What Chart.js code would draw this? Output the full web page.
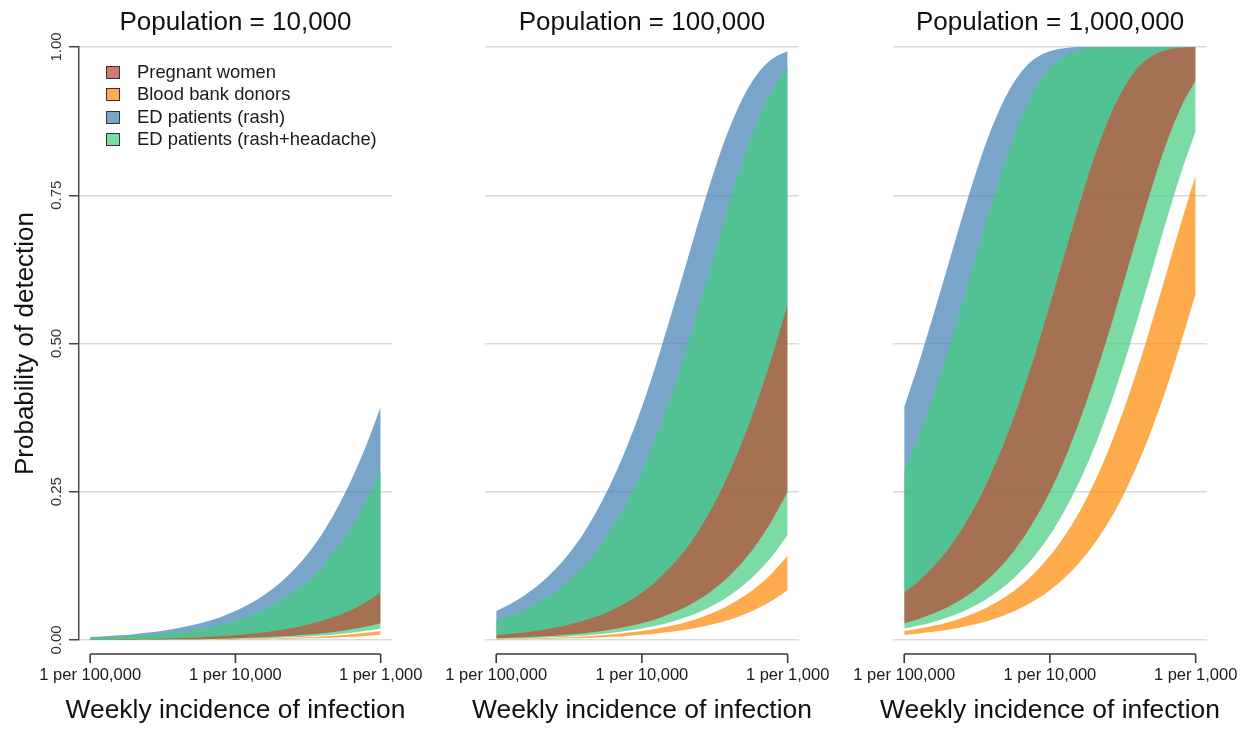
<!DOCTYPE html>
<html>
<head>
<meta charset="utf-8">
<script src="https://cdn.jsdelivr.net/npm/chart.js@4.4.1/dist/chart.umd.min.js"></script>
<style>
  html, body { margin: 0; padding: 0; background: #fff; overflow: hidden; width: 1245px; height: 729px; }
  canvas { position: absolute; top: 0; }
</style>
</head>
<body>
<canvas id="pop10k" width="470" height="729" style="left:0px"></canvas>
<canvas id="pop100k" width="470" height="729" style="left:407px"></canvas>
<canvas id="pop1m" width="470" height="729" style="left:815px"></canvas>
<script>
// Weekly incidence sampled every 0.1 decade, 1 per 100,000 to 1 per 1,000
const incidence = [1.000e-5, 1.259e-5, 1.585e-5, 1.995e-5, 2.512e-5, 3.162e-5, 3.981e-5, 5.012e-5, 6.310e-5, 7.943e-5,
                   1.000e-4, 1.259e-4, 1.585e-4, 1.995e-4, 2.512e-4, 3.162e-4, 3.981e-4, 5.012e-4, 6.310e-4, 7.943e-4, 1.000e-3];
const incidenceTicks = [1e-5, 1e-4, 1e-3];
const incidenceTickLabels = ['1 per 100,000', '1 per 10,000', '1 per 1,000'];
const probTicks = [0, 0.25, 0.5, 0.75, 1];
const probTickLabels = ['0.00', '0.25', '0.50', '0.75', '1.00'];

const panelTitles = ['Population = 10,000', 'Population = 100,000', 'Population = 1,000,000'];
const xAxisTitle = 'Weekly incidence of infection';
const yAxisTitle = 'Probability of detection';
const seriesNames = ['Pregnant women', 'Blood bank donors', 'ED patients (rash)', 'ED patients (rash+headache)'];

// Population = 10,000 : lower / upper edge of each detection band
const preg10kLo  = [0.0003, 0.0004, 0.0005, 0.0006, 0.0007, 0.0009, 0.0011, 0.0014, 0.0018, 0.0023, 0.0029, 0.0036, 0.0046, 0.0057, 0.0072, 0.0091, 0.0114, 0.0143, 0.018, 0.0226, 0.0284];
const preg10kHi  = [0.0008, 0.0010, 0.0013, 0.0017, 0.0021, 0.0026, 0.0033, 0.0042, 0.0052, 0.0066, 0.0083, 0.0104, 0.0131, 0.0165, 0.0207, 0.0260, 0.0327, 0.0409, 0.0512, 0.0641, 0.080];
const blood10kLo = [0.0001, 0.0001, 0.0001, 0.0002, 0.0002, 0.0003, 0.0003, 0.0004, 0.0006, 0.0007, 0.0009, 0.0011, 0.0014, 0.0017, 0.0022, 0.0028, 0.0035, 0.0044, 0.0055, 0.0069, 0.0087];
const blood10kHi = [0.0002, 0.0002, 0.0002, 0.0003, 0.0004, 0.0005, 0.0006, 0.0008, 0.0010, 0.0012, 0.0015, 0.0019, 0.0024, 0.0030, 0.0038, 0.0048, 0.0061, 0.0076, 0.0096, 0.0121, 0.0152];
const rash10kHi  = [0.005, 0.0063, 0.0079, 0.0099, 0.0125, 0.0157, 0.0197, 0.0248, 0.0311, 0.0389, 0.0488, 0.061, 0.0762, 0.0949, 0.118, 0.146, 0.180, 0.222, 0.271, 0.328, 0.393];
const head10kLo  = [0.0002, 0.0002, 0.0003, 0.0004, 0.0005, 0.0006, 0.0008, 0.0010, 0.0012, 0.0015, 0.0019, 0.0025, 0.0031, 0.0039, 0.0049, 0.0061, 0.0077, 0.0097, 0.0122, 0.0154, 0.0193];
const head10kHi  = [0.0033, 0.0042, 0.0053, 0.0067, 0.0084, 0.0105, 0.0133, 0.0166, 0.0209, 0.0263, 0.0329, 0.0413, 0.0517, 0.0646, 0.0808, 0.1005, 0.125, 0.155, 0.191, 0.234, 0.285];

// Population = 100,000
const preg100kLo  = [0.0029, 0.0036, 0.0046, 0.0057, 0.0072, 0.0091, 0.0114, 0.0143, 0.018, 0.0226, 0.0284, 0.0356, 0.0446, 0.0558, 0.0697, 0.087, 0.108, 0.134, 0.166, 0.205, 0.250];
const preg100kHi  = [0.0083, 0.0104, 0.0131, 0.0165, 0.0207, 0.0260, 0.0327, 0.0409, 0.0512, 0.0641, 0.080, 0.0997, 0.124, 0.153, 0.189, 0.232, 0.283, 0.342, 0.409, 0.484, 0.566];
const blood100kLo = [0.0009, 0.0011, 0.0014, 0.0017, 0.0022, 0.0028, 0.0035, 0.0044, 0.0055, 0.0069, 0.0087, 0.011, 0.0138, 0.0173, 0.0218, 0.0274, 0.0343, 0.043, 0.0538, 0.0673, 0.084];
const blood100kHi = [0.0015, 0.0019, 0.0024, 0.0030, 0.0038, 0.0048, 0.0061, 0.0076, 0.0096, 0.0121, 0.0152, 0.0191, 0.024, 0.0301, 0.0377, 0.0472, 0.0591, 0.0738, 0.092, 0.1144, 0.142];
const rash100kHi  = [0.0488, 0.061, 0.0762, 0.0949, 0.118, 0.146, 0.180, 0.222, 0.271, 0.328, 0.393, 0.467, 0.548, 0.631, 0.715, 0.794, 0.863, 0.918, 0.957, 0.981, 0.993];
const head100kLo  = [0.0019, 0.0025, 0.0031, 0.0039, 0.0049, 0.0061, 0.0077, 0.0097, 0.0122, 0.0154, 0.0193, 0.0243, 0.0304, 0.0382, 0.0478, 0.0598, 0.0747, 0.0931, 0.116, 0.1435, 0.177];
const head100kHi  = [0.0329, 0.0413, 0.0517, 0.0646, 0.0808, 0.1005, 0.125, 0.155, 0.191, 0.234, 0.285, 0.344, 0.412, 0.487, 0.569, 0.653, 0.737, 0.813, 0.879, 0.930, 0.965];

// Population = 1,000,000
const preg1mLo  = [0.0284, 0.0356, 0.0446, 0.0558, 0.0697, 0.087, 0.108, 0.134, 0.166, 0.205, 0.250, 0.304, 0.367, 0.437, 0.515, 0.598, 0.682, 0.764, 0.838, 0.899, 0.944];
const preg1mHi  = [0.080, 0.0997, 0.124, 0.153, 0.189, 0.232, 0.283, 0.342, 0.409, 0.484, 0.566, 0.650, 0.733, 0.811, 0.877, 0.928, 0.964, 0.985, 0.995, 0.999, 1.000];
const blood1mLo = [0.0087, 0.011, 0.0138, 0.0173, 0.0218, 0.0274, 0.0343, 0.043, 0.0538, 0.0673, 0.084, 0.1045, 0.130, 0.1605, 0.198, 0.242, 0.295, 0.356, 0.425, 0.502, 0.584];
const blood1mHi = [0.0152, 0.0191, 0.024, 0.0301, 0.0377, 0.0472, 0.0591, 0.0738, 0.092, 0.1144, 0.142, 0.175, 0.215, 0.263, 0.319, 0.384, 0.456, 0.536, 0.619, 0.703, 0.784];
const rash1mHi  = [0.393, 0.467, 0.548, 0.631, 0.715, 0.794, 0.863, 0.918, 0.957, 0.981, 0.993, 0.998, 1, 1, 1, 1, 1, 1, 1, 1, 1];
const head1mLo  = [0.0193, 0.0243, 0.0304, 0.0382, 0.0478, 0.0598, 0.0747, 0.0931, 0.116, 0.1435, 0.177, 0.218, 0.266, 0.322, 0.387, 0.460, 0.540, 0.624, 0.708, 0.788, 0.858];
const head1mHi  = [0.285, 0.344, 0.412, 0.487, 0.569, 0.653, 0.737, 0.813, 0.879, 0.930, 0.965, 0.985, 0.995, 0.999, 1, 1, 1, 1, 1, 1, 1];

// The rash band's lower edge runs along the pregnant-women band's upper edge
const rash10kLo = preg10kHi;
const rash100kLo = preg100kHi;
const rash1mLo = preg1mHi;

// Semi-transparent fills; rash band at the back, pregnant-women band in front
const fillColors = {
  preg:  'rgba(184, 67, 48, 0.7)',
  blood: 'rgba(252, 135, 0, 0.7)',
  rash:  'rgba(62, 127, 178, 0.7)',
  head:  'rgba(66, 205, 126, 0.7)'
};
const legendColors = [fillColors.preg, fillColors.blood, fillColors.rash, fillColors.head];

const FONT = "'Liberation Sans', Arial, Helvetica, sans-serif";
Chart.defaults.font.family = FONT;
Chart.defaults.color = '#222';

const toPoints = (ys) => ys.map((y, i) => ({ x: incidence[i], y }));

// Horizontal axis line spanning only the labelled range, with downward ticks,
// plus the axis caption centred under the plot (allowed to run wider than the plot)
const bracketAxis = {
  id: 'bracketAxis',
  afterDraw(chart) {
    const { ctx, chartArea } = chart;
    const xs = chart.scales.x;
    const y0 = chartArea.bottom + 14;
    const xa = xs.getPixelForValue(incidenceTicks[0]);
    const xb = xs.getPixelForValue(incidenceTicks[incidenceTicks.length - 1]);
    ctx.save();
    ctx.strokeStyle = '#3a3a3a';
    ctx.lineWidth = 1.6;
    ctx.beginPath();
    ctx.moveTo(xa, y0);
    ctx.lineTo(xb, y0);
    incidenceTicks.forEach(v => {
      const px = xs.getPixelForValue(v);
      ctx.moveTo(px, y0);
      ctx.lineTo(px, y0 + 9);
    });
    ctx.stroke();

    ctx.fillStyle = '#111';
    ctx.font = '26.4px ' + FONT;
    ctx.textAlign = 'center';
    ctx.textBaseline = 'middle';
    ctx.fillText(xAxisTitle, (chartArea.left + chartArea.right) / 2, chartArea.bottom + 71);
    ctx.restore();
  }
};

// Key drawn inside the first panel's plotting area
const bandLegend = {
  id: 'bandLegend',
  afterDraw(chart, args, opts) {
    if (!opts.show) return;
    const { ctx, chartArea } = chart;
    ctx.save();
    ctx.font = '18.4px ' + FONT;
    ctx.textBaseline = 'middle';
    ctx.textAlign = 'left';
    seriesNames.forEach((name, i) => {
      const cy = chartArea.top + 24.5 + i * 22.5;
      const bx = Math.round(chartArea.left + 27) + 0.5;
      const by = Math.round(cy - 6) + 0.5;
      ctx.fillStyle = '#fff';
      ctx.fillRect(bx, by, 13, 12);
      ctx.fillStyle = legendColors[i];
      ctx.fillRect(bx, by, 13, 12);
      ctx.strokeStyle = '#333';
      ctx.lineWidth = 1;
      ctx.strokeRect(bx, by, 13, 12);
      ctx.fillStyle = '#1a1a1a';
      ctx.fillText(name, chartArea.left + 58, cy + 1);
    });
    ctx.restore();
  }
};

function band(lo, hi, color, order) {
  const edge = {
    xAxisID: 'x', yAxisID: 'y',
    borderColor: 'rgba(0,0,0,0)', borderWidth: 0, pointRadius: 0,
    cubicInterpolationMode: 'monotone', order
  };
  return [
    Object.assign({ data: toPoints(lo), fill: false }, edge),
    Object.assign({ data: toPoints(hi), fill: '-1', backgroundColor: color }, edge)
  ];
}

function buildPanel(id, title, bands, first) {
  const datasets = [
    ...band(bands.rash[0], bands.rash[1], fillColors.rash, 3),
    ...band(bands.head[0], bands.head[1], fillColors.head, 2),
    ...band(bands.preg[0], bands.preg[1], fillColors.preg, 1),
    ...band(bands.blood[0], bands.blood[1], fillColors.blood, 0)
  ];
  return new Chart(document.getElementById(id), {
    type: 'line',
    data: { datasets },
    plugins: [bracketAxis, bandLegend],
    options: {
      responsive: false,
      animation: false,
      devicePixelRatio: 1,
      events: [],
      layout: { padding: { left: first ? 0 : 78, right: 78, top: 0, bottom: 0 } },
      plugins: {
        legend: { display: false },
        tooltip: { enabled: false },
        title: { display: false },
        bandLegend: { show: first }
      },
      scales: {
        x: {
          type: 'logarithmic',
          position: 'bottom',
          bounds: 'data',
          min: Math.pow(10, -5.077),
          max: Math.pow(10, -2.922),
          grid: { display: false, drawTicks: false },
          border: { display: false },
          afterBuildTicks: (s) => { s.ticks = incidenceTicks.map(v => ({ value: v })); },
          ticks: {
            autoSkip: false,
            minRotation: 0,
            maxRotation: 0,
            padding: 25.5,
            color: '#1a1a1a',
            font: { size: 16.5 },
            callback: (v, i) => incidenceTickLabels[i]
          },
          title: { display: false },
          afterFit: (s) => { s.height = 89; }
        },
        // Panel heading, carried by an empty axis above the plot so it centres on the plot area
        heading: {
          type: 'linear',
          position: 'top',
          display: true,
          min: 0,
          max: 1,
          grid: { display: false, drawTicks: false },
          border: { display: false },
          ticks: { display: false },
          title: {
            display: true,
            text: title,
            color: '#111',
            font: { size: 26 },
            padding: { top: 7, bottom: 0 }
          },
          afterFit: (s) => { s.height = 47; }
        },
        y: {
          min: 0,
          max: 1,
          afterBuildTicks: (s) => { s.ticks = probTicks.map(v => ({ value: v })); },
          grid: {
            color: 'rgba(0,0,0,0.14)',
            lineWidth: 1.5,
            drawTicks: first,
            tickLength: 10,
            tickColor: '#444',
            tickWidth: 1.5
          },
          border: { display: first, color: '#4d4d4d', width: 1.5 },
          ticks: {
            display: first,
            minRotation: 90,
            maxRotation: 90,
            crossAlign: 'center',
            padding: -2.6,
            color: '#333',
            font: { size: 15 },
            callback: (v, i) => probTickLabels[i]
          },
          title: {
            display: first,
            text: yAxisTitle,
            color: '#111',
            font: { size: 26 },
            padding: { top: 10.4, bottom: 0 }
          },
          afterFit: (s) => { s.width = first ? 79 : 0; }
        }
      }
    }
  });
}

buildPanel('pop10k', panelTitles[0], {
  preg: [preg10kLo, preg10kHi], blood: [blood10kLo, blood10kHi],
  rash: [rash10kLo, rash10kHi], head: [head10kLo, head10kHi]
}, true);
buildPanel('pop100k', panelTitles[1], {
  preg: [preg100kLo, preg100kHi], blood: [blood100kLo, blood100kHi],
  rash: [rash100kLo, rash100kHi], head: [head100kLo, head100kHi]
}, false);
buildPanel('pop1m', panelTitles[2], {
  preg: [preg1mLo, preg1mHi], blood: [blood1mLo, blood1mHi],
  rash: [rash1mLo, rash1mHi], head: [head1mLo, head1mHi]
}, false);
</script>
</body>
</html>
